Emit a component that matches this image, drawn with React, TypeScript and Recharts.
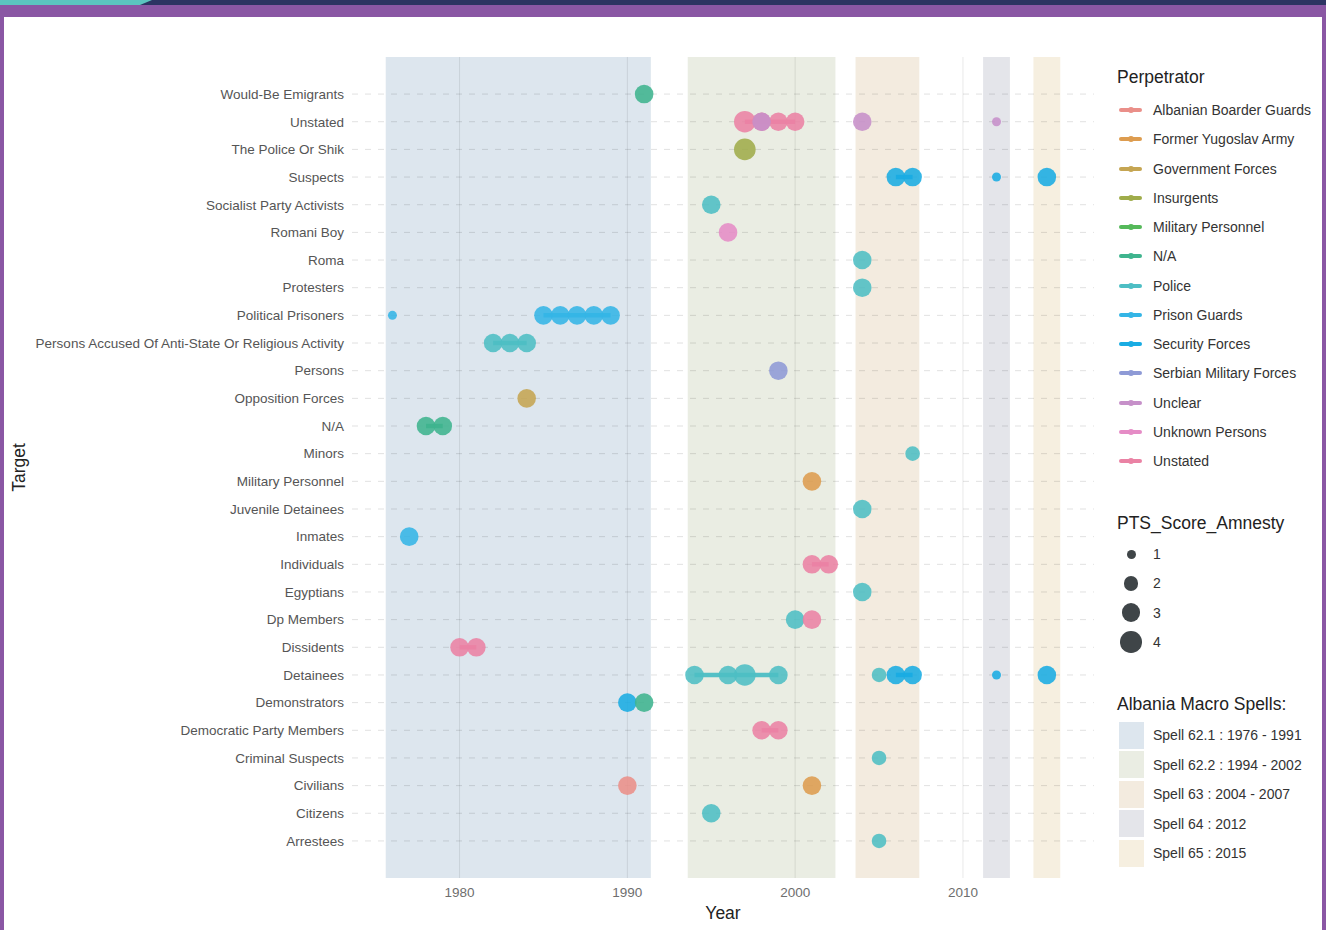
import React from 'react';
import {
  ScatterChart,
  Scatter,
  XAxis,
  YAxis,
  ReferenceArea,
  ReferenceLine,
} from 'recharts';

// Target categories, top to bottom
const targets = [
  'Would-Be Emigrants',
  'Unstated',
  'The Police Or Shik',
  'Suspects',
  'Socialist Party Activists',
  'Romani Boy',
  'Roma',
  'Protesters',
  'Political Prisoners',
  'Persons Accused Of Anti-State Or Religious Activity',
  'Persons',
  'Opposition Forces',
  'N/A',
  'Minors',
  'Military Personnel',
  'Juvenile Detainees',
  'Inmates',
  'Individuals',
  'Egyptians',
  'Dp Members',
  'Dissidents',
  'Detainees',
  'Demonstrators',
  'Democratic Party Members',
  'Criminal Suspects',
  'Civilians',
  'Citizens',
  'Arrestees',
];

const perpetrators = [
  'Albanian Boarder Guards',
  'Former Yugoslav Army',
  'Government Forces',
  'Insurgents',
  'Military Personnel',
  'N/A',
  'Police',
  'Prison Guards',
  'Security Forces',
  'Serbian Military Forces',
  'Unclear',
  'Unknown Persons',
  'Unstated',
];

const perpetratorColors = [
  '#ea8f89',
  '#dd9c4f',
  '#c5a552',
  '#9fac4a',
  '#55b95a',
  '#3fb48e',
  '#4dbec4',
  '#34b5e6',
  '#19ace3',
  '#8e9ad6',
  '#c690c9',
  '#e58cc6',
  '#ea82a4',
];

const ptsScores = [1, 2, 3, 4];

const spellLabels = [
  'Spell 62.1 : 1976 - 1991',
  'Spell 62.2 : 1994 - 2002',
  'Spell 63 : 2004 - 2007',
  'Spell 64 : 2012',
  'Spell 65 : 2015',
];
const spellFrom = [1975.6, 1993.6, 2003.6, 2011.2, 2014.2];
const spellTo = [1991.4, 2002.4, 2007.4, 2012.8, 2015.8];

const yearTicks = [1980, 1990, 2000, 2010];

// [target, perpetrator, year, PTS score]
const events: [string, string, number, number][] = [
  ['Would-Be Emigrants', 'N/A', 1991, 3],
  ['Unstated', 'Unstated', 1997, 4],
  ['Unstated', 'Unstated', 1998, 3],
  ['Unstated', 'Unclear', 1998, 3],
  ['Unstated', 'Unstated', 1999, 3],
  ['Unstated', 'Unstated', 2000, 3],
  ['Unstated', 'Unclear', 2004, 3],
  ['Unstated', 'Unclear', 2012, 1],
  ['The Police Or Shik', 'Insurgents', 1997, 4],
  ['Suspects', 'Security Forces', 2006, 3],
  ['Suspects', 'Security Forces', 2007, 3],
  ['Suspects', 'Security Forces', 2012, 1],
  ['Suspects', 'Security Forces', 2015, 3],
  ['Socialist Party Activists', 'Police', 1995, 3],
  ['Romani Boy', 'Unknown Persons', 1996, 3],
  ['Roma', 'Police', 2004, 3],
  ['Protesters', 'Police', 2004, 3],
  ['Political Prisoners', 'Prison Guards', 1976, 1],
  ['Political Prisoners', 'Prison Guards', 1985, 3],
  ['Political Prisoners', 'Prison Guards', 1986, 3],
  ['Political Prisoners', 'Prison Guards', 1987, 3],
  ['Political Prisoners', 'Prison Guards', 1988, 3],
  ['Political Prisoners', 'Prison Guards', 1989, 3],
  ['Persons Accused Of Anti-State Or Religious Activity', 'Police', 1982, 3],
  ['Persons Accused Of Anti-State Or Religious Activity', 'Police', 1983, 3],
  ['Persons Accused Of Anti-State Or Religious Activity', 'Police', 1984, 3],
  ['Persons', 'Serbian Military Forces', 1999, 3],
  ['Opposition Forces', 'Government Forces', 1984, 3],
  ['N/A', 'N/A', 1978, 3],
  ['N/A', 'N/A', 1979, 3],
  ['Minors', 'Police', 2007, 2],
  ['Military Personnel', 'Former Yugoslav Army', 2001, 3],
  ['Juvenile Detainees', 'Police', 2004, 3],
  ['Inmates', 'Prison Guards', 1977, 3],
  ['Individuals', 'Unstated', 2001, 3],
  ['Individuals', 'Unstated', 2002, 3],
  ['Egyptians', 'Police', 2004, 3],
  ['Dp Members', 'Police', 2000, 3],
  ['Dp Members', 'Unstated', 2001, 3],
  ['Dissidents', 'Unstated', 1980, 3],
  ['Dissidents', 'Unstated', 1981, 3],
  ['Detainees', 'Police', 1994, 3],
  ['Detainees', 'Police', 1996, 3],
  ['Detainees', 'Police', 1997, 4],
  ['Detainees', 'Police', 1999, 3],
  ['Detainees', 'Police', 2005, 2],
  ['Detainees', 'Security Forces', 2006, 3],
  ['Detainees', 'Security Forces', 2007, 3],
  ['Detainees', 'Security Forces', 2012, 1],
  ['Detainees', 'Security Forces', 2015, 3],
  ['Demonstrators', 'Security Forces', 1990, 3],
  ['Demonstrators', 'N/A', 1991, 3],
  ['Democratic Party Members', 'Unstated', 1998, 3],
  ['Democratic Party Members', 'Unstated', 1999, 3],
  ['Criminal Suspects', 'Police', 2005, 2],
  ['Civilians', 'Albanian Boarder Guards', 1990, 3],
  ['Civilians', 'Former Yugoslav Army', 2001, 3],
  ['Citizens', 'Police', 1995, 3],
  ['Arrestees', 'Police', 2005, 2],
];

// styling
const spellFill = ['#c6d5e3', '#dce1d0', '#ebdeca', '#d2d4dc', '#f0e4cb'];
const spellKey = ['#dde6ee', '#eaede3', '#f3ebdf', '#e4e5ea', '#f6efe0'];
const ptsRadius: Record<number, number> = { 1: 4.5, 2: 7.3, 3: 9.3, 4: 10.8 };
const FONT = '"Liberation Sans", Arial, Helvetica, sans-serif';

type Pt = { year: number; row: number; pts: number; color: string };

const rowOf = (t: string) => targets.length - 1 - targets.indexOf(t);
const colorOf = (p: string) => perpetratorColors[perpetrators.indexOf(p)];

// group points per target/perpetrator, join runs with gaps of at most 2 years
const buildSegments = () => {
  const byKey = new Map<string, Pt[]>();
  events.forEach(([t, p, year, pts]) => {
    const k = t + '|' + p;
    if (!byKey.has(k)) byKey.set(k, []);
    byKey.get(k)!.push({ year, row: rowOf(t), pts, color: colorOf(p) });
  });
  const segs: Pt[][] = [];
  byKey.forEach((list) => {
    const sorted = [...list].sort((a, b) => a.year - b.year);
    let cur: Pt[] = [];
    sorted.forEach((pt) => {
      if (cur.length && pt.year - cur[cur.length - 1].year > 2) {
        segs.push(cur);
        cur = [];
      }
      cur.push(pt);
    });
    if (cur.length) segs.push(cur);
  });
  return segs;
};

const segments = buildSegments();

const Dot = (props: any) => {
  const { cx, cy, payload } = props;
  if (cx == null || cy == null) return null;
  return (
    <circle
      cx={cx}
      cy={cy}
      r={ptsRadius[payload.pts]}
      fill={payload.color}
      fillOpacity={0.88}
    />
  );
};

const Legends = () => {
  const title: React.CSSProperties = {
    position: 'absolute',
    left: 1117,
    fontSize: 17.5,
    lineHeight: '22px',
    color: '#222',
    whiteSpace: 'nowrap',
  };
  const item: React.CSSProperties = {
    display: 'flex',
    alignItems: 'center',
    fontSize: 14,
    color: '#333',
    whiteSpace: 'nowrap',
  };
  return (
    <div style={{ position: 'absolute', left: 0, top: 0, fontFamily: FONT }}>
      <div style={{ ...title, top: 66 }}>Perpetrator</div>
      <div style={{ position: 'absolute', left: 1119, top: 95.4 }}>
        {perpetrators.map((p, i) => (
          <div key={p} style={{ ...item, height: 29.25 }}>
            <div style={{ position: 'relative', width: 23, height: 10, marginRight: 11 }}>
              <div
                style={{
                  position: 'absolute',
                  left: 0,
                  top: 3,
                  width: 23,
                  height: 4,
                  borderRadius: 2,
                  background: perpetratorColors[i],
                }}
              />
              <div
                style={{
                  position: 'absolute',
                  left: 9,
                  top: 2,
                  width: 6,
                  height: 6,
                  borderRadius: 3,
                  background: perpetratorColors[i],
                }}
              />
            </div>
            {p}
          </div>
        ))}
      </div>

      <div style={{ ...title, top: 512 }}>PTS_Score_Amnesty</div>
      <div style={{ position: 'absolute', left: 1119, top: 539.4 }}>
        {ptsScores.map((s) => (
          <div key={s} style={{ ...item, height: 29.3 }}>
            <div
              style={{
                width: 24,
                height: 24,
                marginRight: 10,
                display: 'flex',
                alignItems: 'center',
                justifyContent: 'center',
              }}
            >
              <div
                style={{
                  width: ptsRadius[s] * 2,
                  height: ptsRadius[s] * 2,
                  borderRadius: '50%',
                  background: '#3f4548',
                }}
              />
            </div>
            {s}
          </div>
        ))}
      </div>

      <div style={{ ...title, top: 693 }}>Albania Macro Spells:</div>
      <div style={{ position: 'absolute', left: 1119, top: 720.3 }}>
        {spellLabels.map((s, i) => (
          <div key={s} style={{ ...item, height: 29.5 }}>
            <div style={{ width: 25, height: 27, background: spellKey[i], marginRight: 9 }} />
            {s}
          </div>
        ))}
      </div>
    </div>
  );
};

export default function App() {
  return (
    <div
      style={{
        position: 'absolute',
        left: 0,
        top: 0,
        width: 1326,
        height: 930,
        background: '#8a57a4',
        overflow: 'hidden',
        fontFamily: FONT,
      }}
    >
      <div style={{ position: 'absolute', left: 0, top: 0, width: 1326, height: 5, background: '#2c3462' }} />
      <div
        style={{
          position: 'absolute',
          left: 0,
          top: 0,
          width: 152,
          height: 5,
          background: '#5bc5bf',
          clipPath: 'polygon(0 0, 152px 0, 140px 5px, 0 5px)',
        }}
      />
      <div style={{ position: 'absolute', left: 4, top: 17, width: 1318, height: 913, background: '#fff' }} />

      <div style={{ position: 'absolute', left: 0, top: 0 }}>
        <ScatterChart
          width={1326}
          height={930}
          margin={{ top: 57, right: 232, bottom: 7, left: 0 }}
          style={{ fontFamily: FONT }}
        >
          {spellLabels.map((s, i) => (
            <ReferenceArea
              key={s}
              x1={spellFrom[i]}
              x2={spellTo[i]}
              y1={-1.34}
              y2={28.34}
              fill={spellFill[i]}
              fillOpacity={0.6}
              stroke="none"
              ifOverflow="hidden"
            />
          ))}
          {yearTicks.map((y) => (
            <ReferenceLine key={'v' + y} x={y} stroke="rgba(0,0,0,0.09)" strokeWidth={1} />
          ))}
          {targets.map((t, i) => (
            <ReferenceLine
              key={'h' + t}
              y={i}
              stroke="rgba(0,0,0,0.12)"
              strokeWidth={1}
              strokeDasharray="6 7"
            />
          ))}
          <XAxis
            type="number"
            dataKey="year"
            domain={[1973.59, 2017.81]}
            allowDataOverflow
            ticks={yearTicks}
            interval={0}
            height={45}
            axisLine={false}
            tickLine={false}
            tickSize={0}
            tickMargin={9}
            tick={{ fill: '#6e6e6e', fontSize: 13.5, fontFamily: FONT }}
            label={{ value: 'Year', position: 'insideBottom', offset: 4, fill: '#222', fontSize: 17.5 }}
          />
          <YAxis
            type="number"
            dataKey="row"
            domain={[-1.34, 28.34]}
            allowDataOverflow
            ticks={targets.map((_, i) => i)}
            interval={0}
            width={352}
            axisLine={false}
            tickLine={false}
            tickSize={0}
            tickMargin={8}
            tickFormatter={(v: number) => targets[targets.length - 1 - v]}
            tick={{ fill: '#555', fontSize: 13.5, fontFamily: FONT }}
            label={{
              content: (p: any) => {
                const vb = p.viewBox || { x: 0, y: 57, height: 821 };
                const x = 19;
                const y = vb.y + vb.height / 2;
                return (
                  <text
                    x={x}
                    y={y}
                    transform={`rotate(-90 ${x} ${y})`}
                    textAnchor="middle"
                    dominantBaseline="central"
                    fill="#222"
                    fontSize={17.5}
                    fontFamily={FONT}
                  >
                    Target
                  </text>
                );
              },
            }}
          />
          {segments.map((seg, i) => (
            <Scatter
              key={i}
              data={seg}
              isAnimationActive={false}
              line={
                seg.length > 1
                  ? { stroke: seg[0].color, strokeWidth: 4.5, strokeOpacity: 0.95 }
                  : false
              }
              shape={Dot}
            />
          ))}
        </ScatterChart>
      </div>
      <Legends />
    </div>
  );
}
